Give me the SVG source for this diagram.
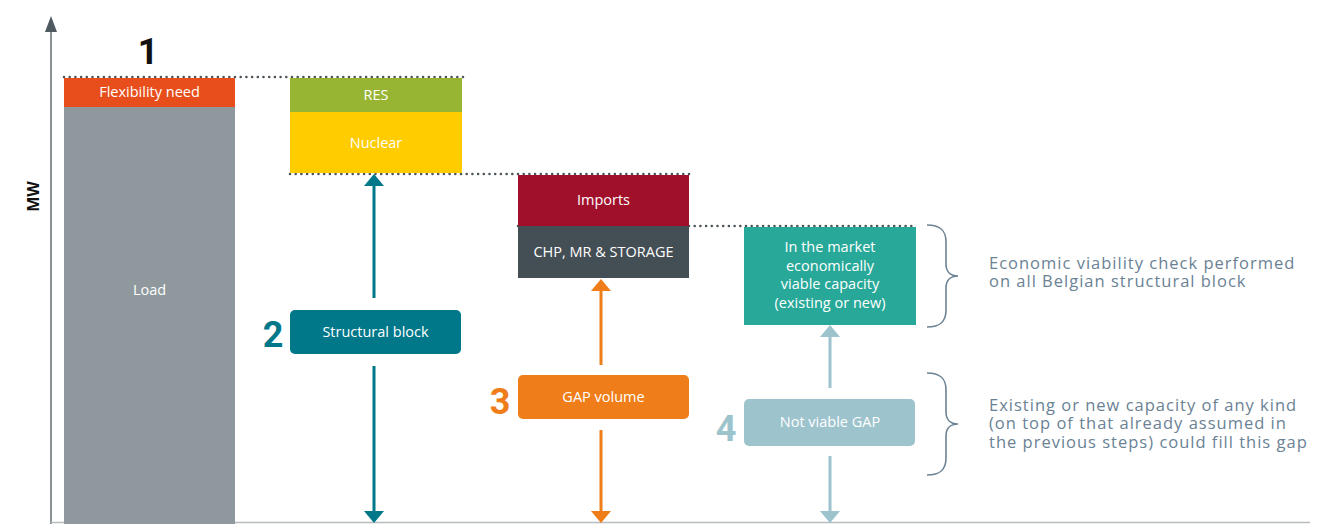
<svg xmlns="http://www.w3.org/2000/svg" width="1335" height="524" viewBox="0 0 1335 524">
<style>
.lbl{font-family:"Open Sans","Liberation Sans",sans-serif;font-size:14.5px;fill:#ffffff;text-anchor:middle}
.num{font-family:Roboto,"Liberation Sans",sans-serif;font-weight:bold;font-size:36px;text-anchor:middle}
.note{font-family:"Open Sans","Liberation Sans",sans-serif;font-size:16.5px;letter-spacing:1px;fill:#6a8294}
.dots{stroke:#4a5459;stroke-width:2.6;stroke-linecap:round;stroke-dasharray:0 5.7;fill:none}
.brace{stroke:#6a8294;stroke-width:1.6;fill:none}
</style>
<rect width="1335" height="524" fill="#ffffff"/>
<g id="axes">
<line x1="51" y1="30" x2="51" y2="524" stroke="#8a9296" stroke-width="2"/>
<polygon points="51,16 45,32 57,32" fill="#4f5a60"/>
<line x1="51" y1="522.5" x2="1310" y2="522.5" stroke="#b7bcbf" stroke-width="1.5"/>
<text x="39" y="196.5" transform="rotate(-90 39 196.5)" font-family="'Open Sans','Liberation Sans',sans-serif" font-weight="bold" font-size="16" text-anchor="middle" fill="#111">MW</text>
</g>
<g id="guides">
<line class="dots" x1="64" y1="77" x2="463" y2="77"/>
<line class="dots" x1="290" y1="174" x2="689" y2="174"/>
<line class="dots" x1="518" y1="226" x2="916" y2="226"/>
</g>
<g id="step1">
<text class="num" x="148" y="64" fill="#111">1</text>
</g>
<g id="flexibility">
<rect x="64" y="78" width="171" height="29" fill="#e84e1b"/>
<text class="lbl" x="149.5" y="97">Flexibility need</text>
</g>
<g id="load">
<rect x="64" y="107" width="171" height="417" fill="#8e989d"/>
<text class="lbl" x="149.5" y="295" fill="#eef0f1">Load</text>
</g>
<g id="res">
<rect x="290" y="78" width="172" height="34" fill="#97b533"/>
<text class="lbl" x="376" y="100">RES</text>
</g>
<g id="nuclear">
<rect x="290" y="112" width="172" height="61" fill="#ffcc00"/>
<text class="lbl" x="376" y="148">Nuclear</text>
</g>
<g id="imports">
<rect x="518" y="175" width="171" height="51" fill="#a1102b"/>
<text class="lbl" x="603.5" y="205">Imports</text>
</g>
<g id="chp">
<rect x="518" y="226" width="171" height="52" fill="#444e55"/>
<text class="lbl" x="603.5" y="257">CHP, MR &amp; STORAGE</text>
</g>
<g id="viable">
<rect x="744" y="227" width="172" height="98" fill="#27a898"/>
<text class="lbl" x="830" y="252">In the market</text>
<text class="lbl" x="830" y="271">economically</text>
<text class="lbl" x="830" y="289">viable capacity</text>
<text class="lbl" x="830" y="308">(existing or new)</text>
</g>
<g id="structural">
<text class="num" x="273" y="347" fill="#00788a">2</text>
<rect x="290" y="310" width="171" height="44" rx="5" fill="#00788a"/>
<text class="lbl" x="375.5" y="337">Structural block</text>
</g>
<g id="gap">
<text class="num" x="500" y="414" fill="#ef7d1a">3</text>
<rect x="518" y="375" width="171" height="44" rx="5" fill="#ef7d1a"/>
<text class="lbl" x="603.5" y="402">GAP volume</text>
</g>
<g id="notviable">
<text class="num" x="726" y="441" fill="#9dc3cd">4</text>
<rect x="744" y="399" width="171" height="47" rx="5" fill="#9dc3cd"/>
<text class="lbl" x="830" y="427">Not viable GAP</text>
</g>
<g id="connectors">
<line x1="374" y1="184" x2="374" y2="298" stroke="#00788a" stroke-width="3"/>
<polygon points="374,174 364,186 384,186" fill="#00788a"/>
<line x1="374" y1="366" x2="374" y2="514" stroke="#00788a" stroke-width="3"/>
<polygon points="374,523 364,511 384,511" fill="#00788a"/>
<line x1="601" y1="289" x2="601" y2="365" stroke="#ef7d1a" stroke-width="3"/>
<polygon points="601,279 591,291 611,291" fill="#ef7d1a"/>
<line x1="601" y1="430" x2="601" y2="514" stroke="#ef7d1a" stroke-width="3"/>
<polygon points="601,523 591,511 611,511" fill="#ef7d1a"/>
<line x1="830" y1="335" x2="830" y2="388" stroke="#9dc3cd" stroke-width="3"/>
<polygon points="830,325 820,337 840,337" fill="#9dc3cd"/>
<line x1="830" y1="456" x2="830" y2="514" stroke="#9dc3cd" stroke-width="3"/>
<polygon points="830,523 820,511 840,511" fill="#9dc3cd"/>
</g>
<g id="brace-top">
<path class="brace" d="M927,225 C940,225 946,230 946,242 L946,264 C946,271 950,276 958,276 C950,276 946,281 946,288 L946,310 C946,322 940,327 927,327"/>
<text class="note" x="989" y="269">Economic viability check performed</text>
<text class="note" x="989" y="287">on all Belgian structural block</text>
</g>
<g id="brace-bottom">
<path class="brace" d="M927,373 C940,373 946,378 946,390 L946,412 C946,419 950,424 958,424 C950,424 946,429 946,436 L946,458 C946,470 940,475 927,475"/>
<text class="note" x="989" y="411">Existing or new capacity of any kind</text>
<text class="note" x="989" y="429">(on top of that already assumed in</text>
<text class="note" x="989" y="448">the previous steps) could fill this gap</text>
</g>
</svg>
